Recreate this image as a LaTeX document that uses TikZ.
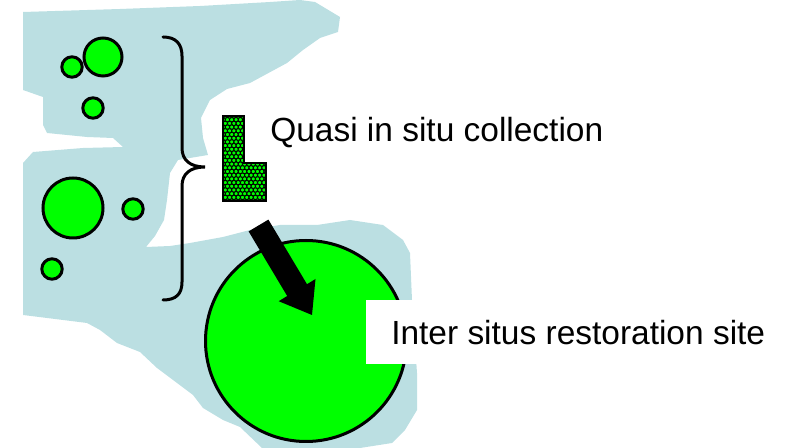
\documentclass[tikz,border=0pt]{standalone}
\usepackage{fontspec}
\setmainfont{Liberation Sans}
\definecolor{sea}{RGB}{187,223,226}
\definecolor{leaf}{RGB}{0,255,0}
\tikzset{
  blob/.style={circle, draw=black, line width=2.25pt, fill=leaf, inner sep=0pt},
  label/.style={anchor=base west, inner sep=0pt, font=\fontsize{25.1pt}{30pt}\selectfont},
  brace/.style={draw=black, line width=2.25pt, line cap=round},
  ring/.style={draw=black, line width=0.55pt}
}
\begin{document}
\begin{tikzpicture}[x=0.75pt,y=-0.75pt]
\useasboundingbox (0,0) rectangle (789,448);
% water / land area
\fill[sea] (23,12) -- (120,9) -- (200,6) -- (270,2) -- (300,0) -- (315,2) -- (340,17) -- (338,32)
  -- (320,38) -- (303,50) -- (287,63) -- (250,83) -- (227,89) -- (210,100) -- (201,118) -- (203,138)
  -- (208,155) -- (178,160) -- (170,173) -- (167,200) -- (164,220) -- (155,236) -- (146,247)
  -- (170,246) -- (190,243) -- (223,237) -- (250,230) -- (280,225) -- (317,225) -- (350,220)
  -- (383,225) -- (403,240) -- (410,253) -- (412,300) -- (417,373) -- (417,410) -- (405,430)
  -- (392,443) -- (360,448) -- (262,448) -- (240,427) -- (223,420) -- (203,408) -- (193,395)
  -- (173,380) -- (157,368) -- (140,352) -- (117,343) -- (100,330) -- (87,323) -- (47,318)
  -- (23,315) -- (23,163) -- (33,152) -- (83,148) -- (123,147) -- (113,138) -- (87,137)
  -- (47,133) -- (43,125) -- (43,97) -- (23,90) -- cycle;
% small circles
\node[blob, minimum size=28.5pt] (ca) at (103,57) {};
\node[blob, minimum size=15.3pt] (cb) at (72,67) {};
\node[blob, minimum size=15.3pt] (cc) at (93,108) {};
\node[blob, minimum size=45pt] (cd) at (73,208) {};
\node[blob, minimum size=15.3pt] (ce) at (133,209) {};
\node[blob, minimum size=15.3pt] (cf) at (52,269) {};
% big circle
\node[blob, minimum size=150.75pt] (big) at (306,341) {};
% brace
\coordinate (btop) at (163,37);
\coordinate (btip) at (205,167);
\coordinate (bbot) at (163,300);
\draw[brace] (btop) .. controls (176,37) and (182,44) .. (182,56) -- (182,148)
  .. controls (182,160) and (190,167) .. (btip)
  .. controls (190,167) and (182,174) .. (182,186) -- (182,282)
  .. controls (182,294) and (176,300) .. (bbot);
% L-shaped collection
\fill[leaf] (223,116) -- (244,116) -- (244,163) -- (266,163) -- (266,201) -- (223,201) -- cycle;
\begin{scope}
  \clip (223,116) -- (244,116) -- (244,163) -- (266,163) -- (266,201) -- (223,201) -- cycle;
  \foreach \r in {0,...,23} {
    \pgfmathsetmacro{\yy}{116+\r*3.7}
    \pgfmathsetmacro{\xo}{mod(\r,2)*2.15}
    \foreach \c in {0,...,11} {
      \draw[ring] ({221+\xo+\c*4.3},\yy) circle [radius=1.6pt];
    }
  }
\end{scope}
\draw[line width=1.8pt] (223,116) -- (244,116) -- (244,163) -- (266,163) -- (266,201) -- (223,201) -- cycle;
% block arrow
\fill[black] (248.6,231.4) -- (287.2,296.0) -- (278.7,301.2) -- (312,315) -- (315.5,279.0)
  -- (307.0,284.2) -- (268.4,219.6) -- cycle;
% labels
\node[label] (quasi) at (270,142) {Quasi in situ collection};
\fill[white] (366,300) rectangle (789,364);
\node[label] (site) at (391,345) {Inter situs restoration site};
\end{tikzpicture}
\end{document}
